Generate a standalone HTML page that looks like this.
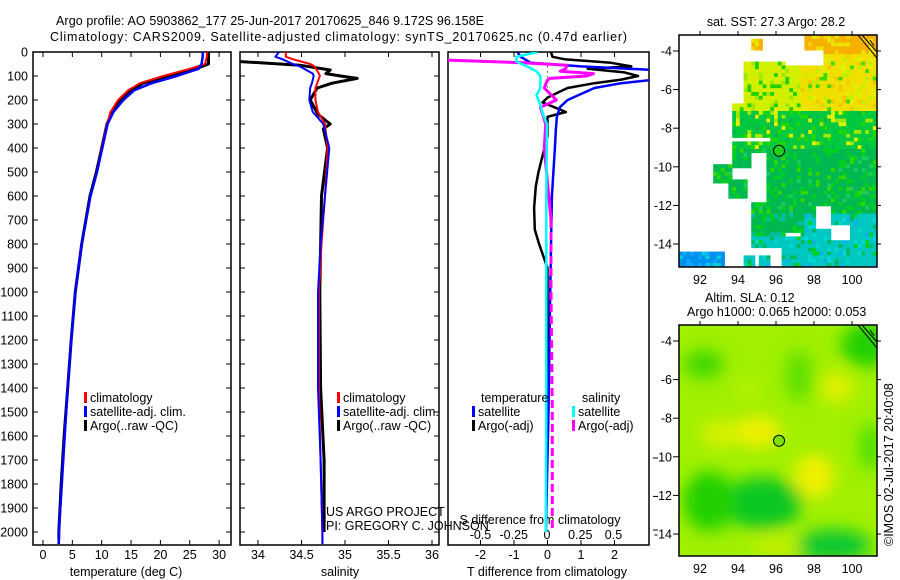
<!DOCTYPE html>
<html><head><meta charset="utf-8">
<style>
html,body{margin:0;padding:0;background:#fff;}
svg{display:block;font-family:"Liberation Sans",sans-serif;}
text{fill:#000;font-size:12.5px;}
</style></head>
<body>
<svg id="fig" width="900" height="580" viewBox="0 0 900 580" xmlns="http://www.w3.org/2000/svg">
<defs>
<clipPath id="c1"><rect x="33" y="52" width="198" height="493"/></clipPath>
<clipPath id="c2"><rect x="240" y="52" width="199" height="493"/></clipPath>
<clipPath id="c3"><rect x="448" y="52" width="201" height="493"/></clipPath>
<clipPath id="cm1"><rect x="679" y="35" width="198" height="232"/></clipPath>
<clipPath id="cm2"><rect x="679" y="325" width="198" height="231"/></clipPath>
<filter id="blur" x="-50%" y="-50%" width="200%" height="200%"><feGaussianBlur stdDeviation="8"/></filter>
</defs>
<text x="56" y="25" textLength="428">Argo profile: AO 5903862_177 25-Jun-2017 20170625_846 9.172S 96.158E</text>
<text x="50" y="41" textLength="577">Climatology: CARS2009. Satellite-adjusted climatology: synTS_20170625.nc (0.47d earlier)</text>

<g id="p1"></g>
<g id="p2"></g>
<g id="p3"></g>
<g id="m1"></g>
<g id="m2"></g>

<text x="776" y="26" text-anchor="middle">sat. SST: 27.3 Argo: 28.2</text>
<text x="705" y="302">Altim. SLA: 0.12</text>
<text x="687" y="316">Argo h1000: 0.065 h2000: 0.053</text>
<text transform="translate(893,546) rotate(-90)">©IMOS 02-Jul-2017 20:40:08</text>
<text x="326" y="516">US ARGO PROJECT</text>
<text x="326" y="530">PI: GREGORY C. JOHNSON</text>
</svg>
<script>
// ---------- data ----------
const depthTicks = [0,100,200,300,400,500,600,700,800,900,1000,1100,1200,1300,1400,1500,1600,1700,1800,1900,2000];
const tempTicks = [0,5,10,15,20,25,30];
const salTicks = [34,34.5,35,35.5,36];
const salTickLabels = ["34","34.5","35","35.5","36"];
const dTTicks = [-2,-1,0,1,2];
const dSTicks = [-0.5,-0.25,0,0.25,0.5];
const dSTickLabels = ["-0.5","-0.25","0","0.25","0.5"];

const depthT = [0,20,50,70,100,130,160,200,250,300,400,500,600,800,1000,1200,1400,1600,1800,2000,2050];
const tempClim = [27.9,27.9,27.6,25.0,20.5,16.5,14.5,12.8,11.5,10.9,10.0,9.2,8.1,6.6,5.5,4.8,4.2,3.7,3.2,2.7,2.6];
const tempSat = [27.2,27.2,27.0,26.5,22.8,18.5,15.5,13.7,12.0,11.0,10.1,9.2,8.1,6.6,5.5,4.8,4.2,3.7,3.2,2.7,2.7];
const depthTArgo = [0,20,50,70,100,130,160,200,250,300,400,500,600,800,1000,1200,1400,1600,1800,2000,2030];
const tempArgo = [28.2,28.2,28.2,26.0,21.5,17.0,15.0,13.3,11.8,10.9,10.0,9.1,8.0,6.6,5.5,4.8,4.2,3.6,3.1,2.7,2.7];

const depthS = [0,20,30,50,60,90,100,130,150,200,250,300,400,600,800,1000,1400,1700,2000,2050];
const salClim = [34.32,34.32,34.4,34.6,34.65,34.7,34.71,34.68,34.66,34.66,34.69,34.77,34.8,34.77,34.73,34.70,34.70,34.72,34.74,34.74];
const salSat = [34.24,34.2,34.28,34.4,34.48,34.63,34.64,34.62,34.6,34.59,34.63,34.75,34.82,34.77,34.72,34.69,34.69,34.72,34.74,34.74];
const depthSArgo = [40,55,75,90,100,110,130,150,200,260,300,320,400,600,1000,1400,1700,2000];
const salArgo = [33.8,34.48,34.83,34.78,34.95,35.14,34.85,34.68,34.6,34.69,34.83,34.75,34.8,34.73,34.71,34.72,34.76,34.76];

const depthDTSat = [0,20,45,60,75,90,115,130,150,175,200,230,270,320,400,600,1000,1500,2000];
const dTSat = [-0.9,-0.8,-0.5,1.0,3.2,3.2,3.2,2.2,1.4,1.0,0.6,0.37,0.28,0.25,0.22,0.13,0.08,0.03,-0.05];
const depthDTArgo = [0,20,30,45,60,70,85,100,115,130,150,170,190,210,230,250,270,350,500,560,650,740,800,900,1200,1600,2000];
const dTArgo = [0.1,0.15,0.5,1.9,2.5,1.2,2.3,2.7,2.2,1.4,0.6,0.3,0,-0.15,0.2,0.55,0,0,-0.27,-0.35,-0.4,-0.38,-0.25,0,0,0,-0.05];
const depthDSArgo = [33,45,55,70,80,90,100,110,120,150,200,230,300,400,700,1000,1500,2000];
const dSArgo = [-0.8,-0.18,0.15,0.14,0.1,0.35,0.3,0.02,0,-0.02,0.07,-0.05,-0.01,-0.02,0.03,0.03,0.04,0.04];
const depthDSSat = [0,20,40,60,80,100,150,180,220,260,300,600,1000,1500,2000];
const dSSat = [-0.07,-0.23,-0.23,-0.15,-0.08,-0.05,-0.05,-0.08,-0.05,-0.03,0,-0.005,-0.005,-0.005,-0.01];

const lonTicks = [92,94,96,98,100];
const latTicks = [-4,-6,-8,-10,-12,-14];

// ---------- scales ----------
const NS = "http://www.w3.org/2000/svg";
const yD = d => 52 + d*0.24;
const tx = v => 43 + v*5.87;
const sx = v => 258 + (v-34)*87;
const dtx = v => 547.5 + v*33.5;
const dsx = v => 547 + v*133;
const lonX = v => 681 + (v-91)*19;
const latY1 = v => 51 + (-4 - v)*19.3;
const latY2 = v => 341 + (-4 - v)*19.3;

function mk(tag, attrs, parent){
  const e = document.createElementNS(NS, tag);
  for (const k in attrs) e.setAttribute(k, attrs[k]);
  parent.appendChild(e);
  return e;
}
function line(parent, xs, ds, xf, color, w, name, dash){
  const d = xs.map((v,i)=>(i?"L":"M")+xf(v).toFixed(1)+","+yD(ds[i]).toFixed(1)).join("");
  const p = mk("path",{d:d,fill:"none",stroke:color,"stroke-width":w,"stroke-linejoin":"round"},parent);
  if (dash) p.setAttribute("stroke-dasharray", dash);
  
  
  return p;
}
function frame(g, x, w, name){
  const r = mk("rect",{x:x,y:52,width:w,height:493,fill:"none",stroke:"#000","stroke-width":1.5},g);
  
  
  depthTicks.forEach(d=>{
    mk("line",{x1:x,x2:x+5,y1:yD(d),y2:yD(d),stroke:"#000"},g);
    mk("line",{x1:x+w-5,x2:x+w,y1:yD(d),y2:yD(d),stroke:"#000"},g);
  });
}
function txt(g, x, y, s, anchor, name){
  const t = mk("text",{x:x,y:y,"text-anchor":anchor||"start"},g);
  t.textContent = s;
  
  
  return t;
}
function legend(g, x, y, color, label, name){
  const r = mk("rect",{x:x,y:y-10,width:3,height:11,fill:color},g);
  
  
  txt(g, x+6, y, label, "start", name);
}

// ---------- panel 1 ----------
const p1 = document.getElementById("p1");
depthTicks.forEach(d=>txt(p1, 28, yD(d)+4.5, String(d), "end", "depth-tick-label"));
frame(p1, 33, 198, "temperature-frame");
tempTicks.forEach(v=>{
  mk("line",{x1:tx(v),x2:tx(v),y1:540,y2:545,stroke:"#000"},p1);
  mk("line",{x1:tx(v),x2:tx(v),y1:52,y2:57,stroke:"#000"},p1);
  txt(p1, tx(v), 559, String(v), "middle", "temperature-tick-label");
});
txt(p1, 126, 576, "temperature (deg C)", "middle", "temperature-axis-title");
const g1 = mk("g",{"clip-path":"url(#c1)"},p1);
line(g1, tempArgo, depthTArgo, tx, "#000", 3, "argo-temperature-line");
line(g1, tempClim, depthT, tx, "#f00", 2, "climatology-temperature-line");
line(g1, tempSat, depthT, tx, "#00f", 2.5, "satellite-temperature-line");
legend(p1, 84, 402, "#f00", "climatology", "legend-climatology");
legend(p1, 84, 416, "#00f", "satellite-adj. clim.", "legend-satellite");
legend(p1, 84, 430, "#000", "Argo(..raw -QC)", "legend-argo");

// ---------- panel 2 ----------
const p2 = document.getElementById("p2");
frame(p2, 240, 199, "salinity-frame");
salTicks.forEach((v,i)=>{
  mk("line",{x1:sx(v),x2:sx(v),y1:540,y2:545,stroke:"#000"},p2);
  mk("line",{x1:sx(v),x2:sx(v),y1:52,y2:57,stroke:"#000"},p2);
  txt(p2, sx(v), 559, salTickLabels[i], "middle", "salinity-tick-label");
});
txt(p2, 340, 576, "salinity", "middle", "salinity-axis-title");
const g2 = mk("g",{"clip-path":"url(#c2)"},p2);
line(g2, salArgo, depthSArgo, sx, "#000", 3, "argo-salinity-line");
line(g2, salClim, depthS, sx, "#f00", 2, "climatology-salinity-line");
line(g2, salSat, depthS, sx, "#00f", 2, "satellite-salinity-line");
legend(p2, 337, 402, "#f00", "climatology", "legend-climatology-2");
legend(p2, 337, 416, "#00f", "satellite-adj. clim.", "legend-satellite-2");
legend(p2, 337, 430, "#000", "Argo(..raw -QC)", "legend-argo-2");

// ---------- panel 3 ----------
const p3 = document.getElementById("p3");
const fr3 = mk("rect",{x:448,y:52,width:201,height:493,fill:"none",stroke:"#000","stroke-width":1.5},p3);


dTTicks.forEach(v=>{
  mk("line",{x1:dtx(v),x2:dtx(v),y1:540,y2:545,stroke:"#000"},p3);
  mk("line",{x1:dtx(v),x2:dtx(v),y1:52,y2:57,stroke:"#000"},p3);
  txt(p3, dtx(v), 559, String(v), "middle", "t-diff-tick-label");
});
dSTicks.forEach((v,i)=>txt(p3, dsx(v), 539, dSTickLabels[i], "middle", "s-diff-tick-label"));
txt(p3, 540, 524, "S difference from climatology", "middle", "s-diff-axis-title");
txt(p3, 547, 576, "T difference from climatology", "middle", "t-diff-axis-title");
[1700,1860,2000].forEach(d=>mk("line",{x1:653,x2:658,y1:yD(d)-2,y2:yD(d)-2,stroke:"#000"},p3));
const g3 = mk("g",{"clip-path":"url(#c3)"},p3);
const zl = mk("line",{x1:dtx(0),x2:dtx(0),y1:yD(60),y2:yD(200),stroke:"#000","stroke-dasharray":"1 4"},g3);


line(g3, dTArgo, depthDTArgo, dtx, "#000", 2.5, "argo-t-diff-line");
line(g3, dTSat, depthDTSat, dtx, "#00f", 2.5, "satellite-t-diff-line");
const cut = depthDSArgo.indexOf(700);
line(g3, dSArgo.slice(0,cut+1), depthDSArgo.slice(0,cut+1), dsx, "#f0f", 3, "argo-s-diff-line");
line(g3, dSArgo.slice(cut), depthDSArgo.slice(cut), dsx, "#f0f", 3, "argo-s-diff-line-deep", "8 4");
line(g3, dSSat, depthDSSat, dsx, "#0ff", 2.5, "satellite-s-diff-line");
txt(p3, 481, 402, "temperature", "start", "legend-temperature-heading");
txt(p3, 582, 402, "salinity", "start", "legend-salinity-heading");
legend(p3, 472, 416, "#00f", "satellite", "legend-t-satellite");
legend(p3, 472, 430, "#000", "Argo(-adj)", "legend-t-argo");
legend(p3, 572, 416, "#0ff", "satellite", "legend-s-satellite");
legend(p3, 572, 430, "#f0f", "Argo(-adj)", "legend-s-argo");

// ---------- map helpers ----------
function mapAxes(g, top, h, latY, name){
  const r = mk("rect",{x:679,y:top,width:198,height:h,fill:"none",stroke:"#000","stroke-width":1.5},g);
  
  
  lonTicks.forEach(v=>{
    mk("line",{x1:lonX(v),x2:lonX(v),y1:top-4,y2:top,stroke:"#000"},g);
    txt(g, lonX(v), top+h+17, String(v), "middle", name+"-lon-label");
  });
  latTicks.forEach(v=>{
    mk("line",{x1:673,x2:679,y1:latY(v),y2:latY(v),stroke:"#000"},g);
    mk("line",{x1:877,x2:881,y1:latY(v),y2:latY(v),stroke:"#000"},g);
    txt(g, 672, latY(v)+4.5, String(v), "end", name+"-lat-label");
  });
}
function hash(i,j){ let h = (i*374761393 + j*668265263) >>> 0; h = ((h ^ (h>>>13)) * 1274126177) >>> 0; return (h ^ (h>>>16)) % 1000 / 1000; }

// ---------- SST map ----------
const m1 = document.getElementById("m1");
const gm1 = mk("g",{"clip-path":"url(#cm1)"},m1);
const regions = [[804,878,35,50],[822,878,35,66],[751,762,37,49],[743,786,60,115],[731,786,104,139],[784,878,64,232],[770,804,75,140],
 [734,766,140,152],[734,752,152,169],[713,734,165,184],[728,748,179,199],[766,786,140,202],[751,786,202,249],[781,878,232,265],
 [679,724,245,265],[743,754,254,265],[758,769,257,265]];
const holes = [[816,831,205,229],[831,850,225,240],[679,700,245,253],[700,724,245,250],[786,800,232,238],[760,790,50,62]];
const cs = 3.8;
for (let x=679; x<877; x+=cs){
  for (let y=35; y<267; y+=cs){
    const cx=x+cs/2, cy=y+cs/2;
    const inside = regions.some(r=>cx>=r[0]&&cx<r[1]&&cy>=r[2]&&cy<r[3]) && !holes.some(r=>cx>=r[0]&&cx<r[1]&&cy>=r[2]&&cy<r[3]);
    if (!inside) continue;
    const i=Math.round((x-679)/cs), j=Math.round((y-35)/cs);
    const n = hash(i,j);
    let col;
    if (cx<726 && cy>244) col = n<0.5?"#0090f0":(n<0.8?"#10a8f8":"#00d0d8");
    else if (cy<55) col = n<0.35?"#f8b000":(n<0.7?"#f0d800":"#e8e800");
    else if (cy<110 && cx>800) col = n<0.3?"#f0e000":(n<0.55?"#e0f000":(n<0.75?"#c0f000":(n<0.9?"#f0c800":"#40d800")));
    else if (cy<110) col = n<0.35?"#d0f000":(n<0.6?"#a0e800":(n<0.85?"#20d000":"#e8e800"));
    else if (cy<150) col = n<0.3?"#00c840":(n<0.55?"#20d800":(n<0.75?"#a0e800":(n<0.88?"#e0f000":"#00b850")));
    else if (cy<215) col = n<0.4?"#00b850":(n<0.72?"#00d020":(n<0.87?"#20c860":"#30d800"));
    else if (cx>805 || (cy>235 && cx<815)) col = n<0.35?"#00c8c0":(n<0.55?"#00b860":(n<0.75?"#00d8d0":(n<0.88?"#10b0f0":"#00d020")));
    else col = n<0.4?"#00b850":(n<0.7?"#00d020":"#00c0a0");
    mk("rect",{x:x.toFixed(2),y:y.toFixed(2),width:cs+0.3,height:cs+0.3,fill:col},gm1);
  }
}
mk("path",{d:"M858,35 L877,58 M862,35 L877,52 M870,40 L874,46",stroke:"#000",fill:"none"},gm1);
const c1 = mk("circle",{cx:lonX(96.16),cy:latY1(-9.17),r:5.5,fill:"#20d020",stroke:"#000"},m1);


mapAxes(m1, 35, 232, latY1, "sst-map");

// ---------- SLA map ----------
const m2 = document.getElementById("m2");
const gm2 = mk("g",{"clip-path":"url(#cm2)"},m2);
mk("rect",{x:679,y:325,width:198,height:231,fill:"#a0f000"},gm2);
const gb = mk("g",{filter:"url(#blur)"},gm2);
[[92.2,-5.2,20,14,"#40d800"],[95.3,-12.4,40,26,"#10c820"],[92.5,-12.3,26,30,"#20d000"],[99,-14.6,38,16,"#10c830"],[100.8,-4.2,26,22,"#20d000"],[97.2,-5.8,14,26,"#60e000"],[101,-9.5,12,24,"#50e000"],
 [95,-8.7,24,16,"#f0f000"],[98,-11,20,22,"#f0f000"],[99.2,-6.4,16,16,"#e0f000"],[93,-8.8,18,14,"#d8f000"],[96,-14.6,24,9,"#c8f000"],[94.5,-6.5,12,10,"#b8f000"]].forEach(b=>{
  mk("ellipse",{cx:lonX(b[0]),cy:latY2(b[1]),rx:b[2],ry:b[3],fill:b[4]},gb);
});
mk("path",{d:"M858,325 L877,348 M862,325 L877,342 M870,330 L874,336",stroke:"#000",fill:"none"},gm2);
const c2 = mk("circle",{cx:lonX(96.16),cy:latY2(-9.17),r:5.5,fill:"#80e000",stroke:"#000"},m2);


mapAxes(m2, 325, 231, latY2, "sla-map");
</script>
</body></html>
